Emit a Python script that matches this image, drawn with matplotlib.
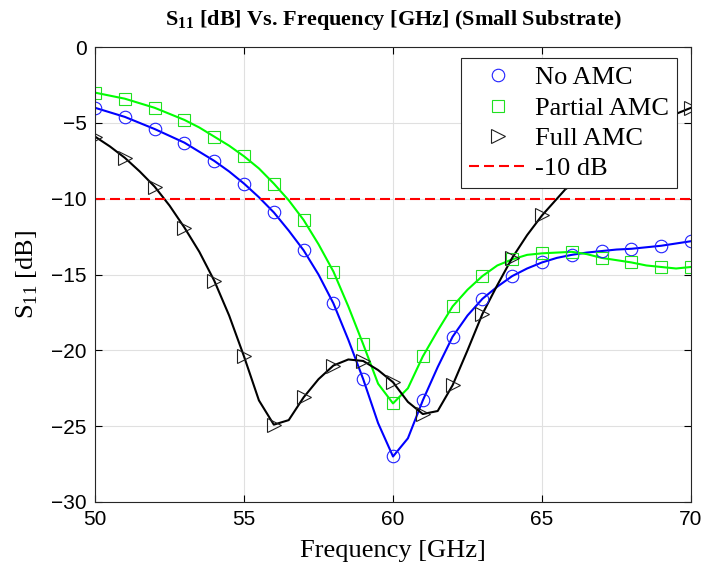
import numpy as np
import matplotlib
matplotlib.use("Agg")
import matplotlib.pyplot as plt

# dados (passo de 0.5 GHz, marcadores nos inteiros)
freq = np.arange(50, 70.5, 0.5)

s11_no_amc = [-4.0, -4.3, -4.6, -5.0, -5.4, -5.85, -6.3, -6.9, -7.5, -8.2,
              -9.0, -9.9, -10.9, -12.1, -13.4, -15.0, -16.9, -19.3, -21.9, -24.8,
              -27.0, -25.8, -23.3, -21.1, -19.1, -17.7, -16.6, -15.8, -15.1, -14.6,
              -14.2, -13.9, -13.7, -13.55, -13.45, -13.35, -13.3, -13.2, -13.1, -12.95,
              -12.8]

s11_partial = [-3.0, -3.2, -3.4, -3.7, -4.0, -4.4, -4.8, -5.3, -5.9, -6.5,
               -7.2, -8.0, -9.0, -10.1, -11.4, -13.0, -14.8, -17.1, -19.6, -22.2,
               -23.5, -22.5, -20.4, -18.7, -17.1, -16.0, -15.1, -14.4, -14.0, -13.7,
               -13.6, -13.55, -13.5, -13.65, -13.9, -14.05, -14.2, -14.4, -14.5, -14.6,
               -14.5]

s11_full = [-5.9, -6.55, -7.3, -8.2, -9.2, -10.45, -11.9, -13.5, -15.4, -17.7,
            -20.4, -23.3, -24.9, -24.6, -23.1, -21.9, -21.0, -20.6, -20.7, -21.3,
            -22.1, -23.4, -24.2, -24.0, -22.3, -20.0, -17.6, -15.7, -13.9, -12.4,
            -11.1, -10.0, -8.9, -8.0, -7.2, -6.5, -5.9, -5.3, -4.8, -4.4,
            -4.0]

limiar = -10

plt.rcParams['mathtext.fontset'] = 'custom'
plt.rcParams['mathtext.rm'] = 'Liberation Serif'
plt.rcParams['mathtext.bf'] = 'Liberation Serif:bold'

serif = 'Liberation Serif'
tick_font = 'Liberation Sans'

fig = plt.figure(figsize=(7.04, 5.75), dpi=100)
ax = fig.add_axes([0.135, 0.127, 0.8465, 0.791])

# linhas suaves
ax.plot(freq, s11_no_amc, color='#0000ff', lw=1.5)
ax.plot(freq, s11_partial, color='#00ff00', lw=1.5)
ax.plot(freq, s11_full, color='black', lw=1.5)

# marcadores nos pontos inteiros
ax.plot(freq[::2], s11_no_amc[::2], 'o', ls='none', mfc='none', mec='#2020ff',
        ms=9, mew=0.8, label='No AMC')
ax.plot(freq[::2], s11_partial[::2], 's', ls='none', mfc='none', mec='#20e020',
        ms=8, mew=0.8, label='Partial AMC')
ax.plot(freq[::2], s11_full[::2], '>', ls='none', mfc='none', mec='#202020',
        ms=9.5, mew=0.8, label='Full AMC')

ax.axhline(limiar, color='red', lw=1.5, ls=(0, (4.8, 2.4)), label='-10 dB')

ax.set_xlim(50, 70)
ax.set_ylim(-30, 0)
ax.set_xticks(np.arange(50, 71, 5))
ax.set_yticks(np.arange(-30, 1, 5))
ax.grid(True, color='#e0e0e0', lw=0.8)
ax.set_axisbelow(True)
ax.tick_params(direction='in', top=True, right=True, length=5, width=0.8,
               labelsize=15, pad=6)
for lab in ax.get_xticklabels() + ax.get_yticklabels():
    lab.set_family(tick_font)
for s in ax.spines.values():
    s.set_linewidth(0.8)
    s.set_color('#262626')

ax.set_xlabel('Frequency [GHz]', family=serif, fontsize=19, labelpad=8)
ax.set_ylabel('S$_{11}$ [dB]', family=serif, fontsize=19, labelpad=8)
ax.set_title(r'S$_{\mathbf{11}}$ [dB] Vs. Frequency [GHz] (Small Substrate)',
             family=serif, fontsize=16, fontweight='bold', pad=16)

leg = ax.legend(loc='upper right', bbox_to_anchor=(0.977, 0.976),
                prop={'family': serif, 'size': 19}, fancybox=False,
                edgecolor='#262626', framealpha=1, borderaxespad=0,
                labelspacing=0.26, handlelength=2.2, handletextpad=0.3,
                borderpad=0.3)
leg.get_frame().set_linewidth(0.8)

fig.savefig('out.png', dpi=100)
